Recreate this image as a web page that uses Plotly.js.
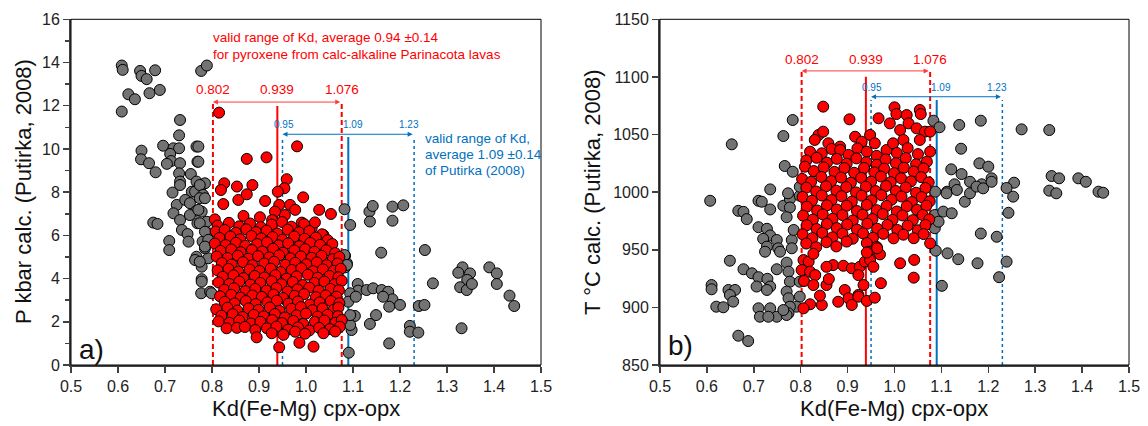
<!DOCTYPE html>
<html>
<head>
<meta charset="utf-8">
<script src="https://cdn.plot.ly/plotly-3.0.1.min.js"></script>
<style>
  html, body { margin: 0; padding: 0; background: #fff; }
  #chart { width: 1148px; height: 426px; }
</style>
</head>
<body>
<div id="chart"></div>
<script>
// Kd(Fe-Mg) cpx-opx vs. calculated pressure (panel a) and temperature (panel b)

// Panel a: pyroxene pairs outside the Parinacota range (grey), [Kd, P kbar]
const grayP = [
  [0.608,13.86],[0.610,13.66],[0.647,13.61],[0.650,13.38],[0.661,13.23],[0.679,13.64],[0.622,12.53],[0.636,12.30],
  [0.667,12.58],[0.689,12.73],[0.608,11.73],[0.777,13.61],[0.789,13.86],[0.732,11.34],[0.730,10.63],[0.650,9.92],
  [0.696,10.15],[0.718,10.03],[0.730,10.03],[0.767,10.11],[0.649,9.52],[0.666,9.34],[0.680,8.92],[0.711,9.77],
  [0.713,9.44],[0.704,9.31],[0.732,9.34],[0.769,9.41],[0.730,8.87],[0.732,8.49],[0.755,8.84],[0.767,8.49],
  [0.785,8.41],[0.774,8.10],[0.757,8.02],[0.716,7.98],[0.732,8.33],[0.725,7.41],[0.743,7.64],[0.753,7.49],
  [0.764,8.02],[0.774,8.33],[0.781,7.87],[0.774,7.72],[0.718,7.02],[0.732,6.71],[0.767,7.14],[0.753,6.94],
  [0.736,6.25],[0.748,6.06],[0.778,7.10],[0.789,6.63],[0.780,5.71],[0.792,6.10],[0.792,4.94],[0.778,4.55],
  [0.675,6.59],[0.684,6.53],[0.709,5.74],[0.709,5.32],[0.750,5.71],[0.769,6.56],[0.767,5.01],[0.764,4.86],
  [0.785,5.40],[0.778,3.97],[0.777,3.32],[0.796,3.39],[0.771,10.11],[0.771,9.41],[0.785,7.72],[0.771,7.18],
  [0.774,6.56],[0.785,6.17],[0.792,5.79],[0.785,5.48],[0.774,4.78],[0.799,3.32],[0.778,3.86],
  [1.082,7.21],[1.094,6.48],[1.135,7.10],[1.142,7.36],[1.136,6.64],[1.184,7.33],[1.207,7.39],[1.184,6.68],
  [1.160,5.20],[1.253,5.32],[1.083,5.05],[1.087,4.71],[1.083,4.52],[1.333,4.52],[1.324,4.27],[1.349,4.24],
  [1.343,3.94],[1.328,3.60],[1.342,3.47],[1.353,3.75],[1.390,4.52],[1.406,4.24],[1.406,3.75],[1.270,3.78],
  [1.433,3.21],[1.443,2.73],[1.331,1.70],[1.110,3.75],[1.111,3.44],[1.129,3.47],[1.143,3.55],[1.161,3.47],
  [1.175,3.39],[1.184,3.04],[1.200,2.78],[1.177,2.70],[1.094,3.32],[1.090,2.93],[1.240,2.73],[1.252,2.78],
  [1.104,2.27],[1.149,2.31],[1.136,1.90],[1.097,1.62],[1.094,1.85],[1.221,1.81],[1.221,1.54],[1.239,1.50],
  [1.177,1.00],[1.091,0.57],[1.094,2.31],[1.082,5.09],[1.087,4.63],[1.106,3.16],[1.164,3.16]
];

// Panel a: Parinacota pyroxene pairs (red), [Kd, P kbar]
const redP = [
  [0.815,11.68],[0.874,9.54],[0.916,9.61],[0.981,10.12],[0.959,8.60],[0.954,8.18],[0.940,8.02],[0.886,8.33],
  [0.826,8.41],[0.819,8.10],[0.853,8.26],[0.856,7.64],[0.874,7.90],[0.824,7.45],[0.913,7.59],[0.994,7.76],
  [1.028,7.18],[1.053,6.99],[0.943,7.41],[0.966,7.41],[0.977,7.18],[0.955,6.94],[0.934,7.10],[0.867,6.90],
  [0.902,6.84],[0.928,6.71],[0.806,6.74],[0.991,6.59],[1.012,6.33],[1.037,6.02],[0.973,5.79],[1.005,5.94],
  [0.812,6.45],[0.836,6.58],[0.858,6.42],[0.881,6.55],[0.904,6.38],[0.927,6.50],[0.949,6.62],[0.969,6.40],[0.996,6.52],[1.019,6.60],
  [0.808,6.18],[0.827,6.25],[0.851,6.12],[0.873,6.28],[0.894,6.15],[0.916,6.22],[0.939,6.08],[0.961,6.26],[0.985,6.14],[1.007,6.20],[1.034,6.05],
  [0.816,5.88],[0.839,5.95],[0.860,5.82],[0.884,5.97],[0.905,5.86],[0.929,5.92],[0.950,5.80],[0.975,5.95],[0.997,5.84],[1.021,5.90],[1.046,5.78],
  [0.806,5.62],[0.829,5.55],[0.851,5.66],[0.871,5.52],[0.896,5.60],[0.917,5.68],[0.942,5.54],[0.962,5.63],[0.986,5.50],[1.009,5.65],[1.030,5.56],[1.056,5.60],
  [0.818,5.28],[0.841,5.35],[0.861,5.22],[0.885,5.32],[0.907,5.25],[0.930,5.38],[0.951,5.20],[0.975,5.30],[0.998,5.36],[1.018,5.24],[1.043,5.31],[1.062,5.18],
  [0.810,5.02],[0.833,4.95],[0.855,5.06],[0.877,4.92],[0.898,5.04],[0.922,4.98],[0.943,5.08],[0.967,4.94],[0.989,5.03],[1.012,4.96],[1.033,5.05],[1.057,4.90],[1.071,5.00],
  [0.821,4.72],[0.842,4.65],[0.866,4.76],[0.886,4.62],[0.911,4.70],[0.932,4.78],[0.956,4.64],[0.977,4.73],[1.001,4.66],[1.023,4.75],[1.044,4.62],[1.067,4.70],
  [0.812,4.38],[0.835,4.45],[0.856,4.32],[0.880,4.42],[0.901,4.35],[0.925,4.46],[0.946,4.30],[0.970,4.40],[0.990,4.48],[1.015,4.34],[1.036,4.43],[1.059,4.36],[1.074,4.45],
  [0.823,4.08],[0.846,4.15],[0.867,4.02],[0.891,4.12],[0.912,4.05],[0.935,4.16],[0.959,4.00],[0.980,4.10],[1.004,4.18],[1.025,4.04],[1.050,4.12],[1.069,4.06],
  [0.814,3.82],[0.837,3.75],[0.858,3.86],[0.882,3.72],[0.903,3.80],[0.927,3.88],[0.948,3.74],[0.972,3.84],[0.993,3.70],[1.018,3.80],[1.039,3.86],[1.061,3.74],[1.076,3.90],
  [0.826,3.48],[0.847,3.55],[0.871,3.42],[0.892,3.52],[0.916,3.45],[0.937,3.56],[0.961,3.40],[0.982,3.50],[1.007,3.58],[1.027,3.44],[1.052,3.52],[1.070,3.46],
  [0.817,3.18],[0.841,3.25],[0.861,3.12],[0.886,3.22],[0.906,3.15],[0.931,3.26],[0.951,3.10],[0.976,3.20],[0.996,3.28],[1.021,3.14],[1.042,3.22],[1.065,3.16],
  [0.827,2.92],[0.848,2.85],[0.872,2.96],[0.893,2.82],[0.918,2.90],[0.938,2.98],[0.963,2.84],[0.983,2.94],[1.008,2.80],[1.029,2.90],[1.053,2.96],[1.071,2.86],
  [0.809,2.58],[0.833,2.65],[0.854,2.52],[0.878,2.62],[0.899,2.55],[0.923,2.66],[0.944,2.50],[0.969,2.60],[0.989,2.68],[1.014,2.54],[1.035,2.62],[1.059,2.56],[1.069,2.66],
  [0.820,2.28],[0.844,2.35],[0.865,2.22],[0.889,2.32],[0.910,2.25],[0.934,2.36],[0.955,2.20],[0.980,2.30],[1.000,2.38],[1.025,2.24],[1.046,2.32],[1.068,2.26],
  [0.814,2.02],[0.837,1.95],[0.858,2.06],[0.883,1.92],[0.903,2.00],[0.928,2.08],[0.949,1.94],[0.973,2.04],[0.994,1.90],[1.019,2.00],[1.039,2.06],[1.063,1.96],[1.076,2.08],
  [0.831,1.70],[0.853,1.72],[0.870,1.76],[0.892,1.62],[0.917,1.70],[0.937,1.78],[0.962,1.64],[0.983,1.74],[1.007,1.60],[1.028,1.72],[1.051,1.66],[1.072,1.77],
  [0.895,1.28],[0.927,1.47],[0.952,1.40],[0.977,1.54],[0.998,1.45],[1.037,1.47],[1.062,1.55],
  [0.943,0.82],[0.986,1.03],[1.016,0.85]
];

// Panel b: grey pairs, [Kd, T °C]
const grayT = [
  [0.653,1041.5],[0.783,1062.6],[0.763,1048.7],[0.766,1022.7],[0.783,1017.7],[0.735,1002.4],[0.607,992.5],[0.667,983.8],
  [0.678,982.9],[0.685,976.6],[0.710,992.5],[0.717,991.7],[0.735,985.0],[0.763,988.2],[0.777,994.0],[0.777,986.7],
  [0.798,996.9],[0.770,978.3],[0.710,969.6],[0.728,968.2],[0.735,962.4],[0.720,959.5],[0.749,958.5],[0.728,952.7],
  [0.724,948.3],[0.752,951.3],[0.756,948.3],[0.781,958.5],[0.781,951.3],[0.785,967.2],[0.649,940.5],[0.678,933.1],
  [0.696,929.6],[0.610,919.4],[0.610,915.7],[0.646,915.1],[0.660,915.1],[0.649,910.8],[0.656,905.0],[0.620,900.6],
  [0.635,900.1],[0.710,926.2],[0.706,918.1],[0.729,924.8],[0.735,918.1],[0.728,915.1],[0.749,933.1],[0.770,938.8],
  [0.774,931.0],[0.777,922.3],[0.770,913.7],[0.774,907.9],[0.798,922.3],[0.798,909.3],[0.791,900.6],[0.777,900.6],
  [0.774,894.9],[0.710,899.2],[0.713,891.9],[0.735,899.2],[0.749,891.9],[0.731,891.9],[0.770,893.4],[0.763,897.7],
  [0.667,875.4],[0.688,870.8],[0.798,1004.7],[0.773,999.0],
  [1.083,1062.0],[1.096,1056.3],[1.138,1058.3],[1.184,1062.0],[1.271,1054.5],[1.330,1053.9],[1.142,1037.7],[1.181,1025.0],
  [1.200,1022.1],[1.207,1012.0],[1.186,1006.8],[1.161,1009.0],[1.143,1015.7],[1.121,1019.8],[1.128,1006.8],[1.112,1000.4],
  [1.087,1000.4],[1.255,1008.2],[1.253,996.1],[1.335,1014.0],[1.351,1012.0],[1.330,1001.3],[1.345,999.0],[1.392,1012.0],
  [1.408,1009.0],[1.435,1000.4],[1.445,999.5],[1.243,982.1],[1.218,961.3],[1.184,964.1],[1.239,939.7],[1.223,926.2],
  [1.177,938.3],[1.136,941.8],[1.113,946.9],[1.088,949.2],[1.101,918.7],[1.086,980.2],[1.104,983.1],[1.122,981.7],
  [1.086,968.7],[1.094,974.4],[1.111,999.0],[1.133,1001.9],[1.150,991.7],[1.161,999.0],[1.175,1004.8],[1.189,1003.3],
  [1.207,1009.0],[1.239,1003.6]
];

// Panel b: Parinacota pairs, [Kd, T °C]
const redT = [
  [0.848,1074.2],[0.904,1063.2],[0.966,1064.1],[1.000,1073.6],[1.004,1067.8],[1.026,1066.9],[1.054,1071.3],[1.056,1067.8],
  [0.990,1059.7],[1.030,1059.7],[1.012,1053.9],[1.047,1055.4],[1.065,1052.5],[1.076,1052.5],[0.838,1049.6],[0.848,1052.5],
  [0.916,1048.1],[0.930,1043.8],[0.948,1049.6],[0.958,1042.4],[0.884,1039.5],[0.859,1042.4],[0.830,1045.3],
  [0.820,1035.1],[0.845,1033.7],[0.866,1037.5],[0.884,1036.6],[0.902,1032.3],[0.921,1038.0],[0.941,1035.1],[0.962,1031.5],
  [0.983,1036.6],[0.997,1042.4],[1.005,1034.0],[1.019,1045.3],[1.028,1038.2],[1.054,1045.3],[1.050,1033.0],[1.076,1035.1],
  [0.812,1027.5],[0.834,1029.8],[0.856,1025.6],[0.877,1028.9],[0.898,1024.7],[0.919,1029.3],[0.940,1026.0],[0.962,1023.8],[0.981,1028.4],[1.003,1025.1],[1.024,1029.6],[1.046,1024.2],[1.069,1026.4],
  [0.809,1022.1],[0.828,1018.3],[0.849,1021.5],[0.872,1017.6],[0.893,1020.9],[0.914,1016.8],[0.935,1021.0],[0.957,1017.2],[0.978,1020.4],[0.999,1016.5],[1.020,1021.2],[1.041,1017.9],[1.062,1020.6],
  [0.803,1011.5],[0.822,1008.9],[0.844,1013.2],[0.865,1009.6],[0.886,1012.7],[0.907,1008.2],[0.929,1012.4],[0.950,1009.1],[0.971,1013.6],[0.992,1008.7],[1.014,1012.1],[1.035,1009.4],[1.057,1013.0],[1.073,1008.5],
  [0.812,1003.9],[0.833,1000.6],[0.854,1005.1],[0.876,1001.3],[0.897,1004.4],[0.918,999.8],[0.939,1004.8],[0.960,1000.9],[0.982,1005.3],[1.003,1001.0],[1.024,1004.1],[1.046,999.5],[1.066,1003.6],
  [0.804,995.8],[0.824,992.6],[0.845,997.1],[0.866,993.2],[0.887,996.5],[0.909,991.8],[0.930,996.9],[0.951,992.9],[0.972,997.4],[0.994,993.5],[1.015,996.2],[1.037,991.4],[1.058,995.7],[1.075,992.0],
  [0.813,987.4],[0.835,984.1],[0.856,988.6],[0.877,984.9],[0.898,988.2],[0.920,983.6],[0.941,988.9],[0.962,984.4],[0.983,988.0],[1.005,983.2],[1.026,987.7],[1.048,984.6],[1.068,988.3],
  [0.805,979.6],[0.826,976.2],[0.847,980.7],[0.868,976.9],[0.889,980.1],[0.911,975.4],[0.932,980.4],[0.953,976.6],[0.975,981.0],[0.996,976.0],[1.017,979.8],[1.039,975.7],[1.060,980.2],[1.074,976.4],
  [0.813,971.3],[0.834,968.0],[0.856,972.4],[0.877,968.8],[0.899,971.9],[0.920,967.5],[0.942,972.6],[0.963,968.3],[0.985,971.6],[1.006,967.2],[1.028,970.9],[1.050,966.9],[1.066,971.5],
  [0.804,963.4],[0.825,960.1],[0.846,964.6],[0.868,960.8],[0.889,964.0],[0.911,959.6],[0.933,964.2],[0.954,960.4],[0.976,963.8],[0.998,959.9],[1.019,963.1],[1.041,960.0],[1.062,963.6],
  [0.812,955.4],[0.833,952.2],[0.855,956.6],[0.876,952.9],[0.898,957.1],[0.941,955.8],[0.962,952.5],[0.945,948.3],[0.969,946.0],
  [0.806,941.1],[0.817,939.7],[0.802,932.4],[0.820,931.0],[0.831,928.0],[0.807,922.9],[0.827,919.4],[0.855,919.4],
  [0.860,924.6],[0.869,936.7],[0.855,935.2],[0.891,936.1],[0.909,933.9],[0.926,935.2],[0.923,928.0],[0.937,939.7],
  [0.894,915.1],[0.923,910.8],[0.934,919.4],[0.971,921.0],[0.820,902.7],[0.845,902.1],[0.841,910.2],[0.880,904.9],
  [0.902,907.9],[0.909,902.1],[0.923,909.3],[0.941,905.6],[0.958,908.4],[1.012,938.3],[1.042,941.2],[1.041,925.8],
  [1.076,955.6],[0.806,899.2],[0.827,946.5],[0.948,941.1],[0.955,935.2],[0.963,951.3],[0.941,947.6]
];

// Kd reference values
const kdParinacota = { low: 0.802, mean: 0.939, high: 1.076 };
const kdPutirka = { low: 0.95, mean: 1.09, high: 1.23 };
const xTickVals = [0.5, 0.6, 0.7, 0.8, 0.9, 1.0, 1.1, 1.2, 1.3, 1.4, 1.5];

const W = 1148, H = 426;
const px = v => v / W;
const py = v => 1 - v / H;

const RED = '#FF0000';
const BLUE = '#0070C0';
const AXIS = '#404040';
const FONT = 'Liberation Sans, Arial, sans-serif';

function scatter(pts, color, xa, ya) {
  return {
    type: 'scatter', mode: 'markers',
    x: pts.map(p => p[0]), y: pts.map(p => p[1]),
    xaxis: xa, yaxis: ya,
    marker: { size: 11, color: color, line: { color: '#000', width: 1 } },
    hoverinfo: 'x+y', showlegend: false
  };
}

const traces = [
  scatter(grayP, '#737373', 'x', 'y'),
  scatter(redP, RED, 'x', 'y'),
  scatter(grayT, '#737373', 'x2', 'y2'),
  scatter(redT, RED, 'x2', 'y2')
];

const tickFont = { family: FONT, size: 16, color: '#222' };
const xAxisBase = {
  range: [0.5, 1.5], tickvals: xTickVals, tickformat: '.1f',
  ticks: 'outside', ticklen: 6, tickwidth: 1.5, tickcolor: AXIS,
  showline: true, linewidth: 2, linecolor: AXIS,
  showgrid: false, zeroline: false, tickfont: tickFont, fixedrange: true
};
const yAxisBase = {
  ticks: 'outside', ticklen: 6, tickwidth: 1.5, tickcolor: AXIS,
  showline: true, linewidth: 2, linecolor: AXIS,
  showgrid: false, zeroline: false, tickfont: tickFont, fixedrange: true
};

const domL = [px(71), px(541)];
const domR = [px(660), px(1129)];
const domY = [1 - 365 / H, 1 - 19.3 / H];

// Reference lines and frame for one panel
function refShapes(xa, ya, yRedDash, yRedSolid, yBlue, yBottom) {
  const v = (x, y1, color, width, dash) => ({
    type: 'line', xref: xa, yref: ya, x0: x, x1: x, y0: yBottom, y1: y1,
    line: { color: color, width: width, dash: dash }, layer: 'below'
  });
  return [
    v(kdParinacota.low, yRedDash, RED, 2, '5px,3px'),
    v(kdParinacota.high, yRedDash, RED, 2, '5px,3px'),
    v(kdParinacota.mean, yRedSolid, RED, 2, 'solid'),
    v(kdPutirka.low, yBlue, BLUE, 1.5, 'dot'),
    v(kdPutirka.high, yBlue, BLUE, 1.5, 'dot'),
    v(kdPutirka.mean, yBlue, BLUE, 2, 'solid'),
    { type: 'rect', xref: xa + ' domain', yref: ya + ' domain', x0: 0, x1: 1, y0: 0, y1: 1,
      line: { color: '#000', width: 1 }, layer: 'above' }
  ];
}

const shapes = [].concat(
  refShapes('x', 'y', 12.17, 11.99, 10.55, 0),
  refShapes('x2', 'y2', 1105.2, 1100.2, 1080.0, 850)
);

function arrow(xa, ya, x0, x1, y, color) {
  return {
    xref: xa, yref: ya, axref: xa, ayref: ya,
    x: x0, y: y, ax: x1, ay: y, text: '', showarrow: true,
    arrowhead: 2, arrowsize: 1, arrowwidth: 1, arrowcolor: color,
    arrowside: 'end+start', standoff: 0, startstandoff: 0
  };
}

function label(xa, ya, x, y, text, color, size) {
  return {
    xref: xa, yref: ya, x: x, y: y, text: text, showarrow: false,
    xanchor: 'center', yanchor: 'middle',
    font: { family: FONT, size: size, color: color }
  };
}

function paperText(x, y, text, size, color, angle, anchor) {
  return {
    xref: 'paper', yref: 'paper', x: px(x), y: py(y), text: text, showarrow: false,
    xanchor: anchor || 'center', yanchor: 'middle', textangle: angle || 0,
    font: { family: FONT, size: size, color: color }
  };
}

const fmt = v => String(v);
const INK = '#111';

const annotations = [
  // panel a
  arrow('x', 'y', kdParinacota.low, kdParinacota.high, 12.17, '#FF3B3B'),
  arrow('x', 'y', kdPutirka.low, kdPutirka.high, 10.68, BLUE),
  label('x', 'y', kdParinacota.low, 12.73, fmt(kdParinacota.low), RED, 13.5),
  label('x', 'y', kdParinacota.mean, 12.73, fmt(kdParinacota.mean), RED, 13.5),
  label('x', 'y', kdParinacota.high, 12.73, fmt(kdParinacota.high), RED, 13.5),
  label('x', 'y', kdPutirka.low + 0.003, 11.13, '0.95', BLUE, 10),
  label('x', 'y', kdPutirka.mean + 0.01, 11.13, '1.09', BLUE, 10),
  label('x', 'y', kdPutirka.high - 0.011, 11.13, '1.23', BLUE, 10),
  paperText(211, 38, 'valid range of Kd, average 0.94 ±0.14', 13.5, RED, 0, 'left'),
  paperText(211, 54, 'for pyroxene from calc-alkaline Parinacota lavas', 13.5, RED, 0, 'left'),
  paperText(423, 139, 'valid range of Kd,', 13.5, BLUE, 0, 'left'),
  paperText(423, 154.5, 'average 1.09 ±0.14', 13.5, BLUE, 0, 'left'),
  paperText(423, 170, 'of Putirka (2008)', 13.5, BLUE, 0, 'left'),
  paperText(77, 349, 'a)', 28, INK, 0, 'left'),
  paperText(23, 192, 'P kbar calc. (Putirka, 2008)', 22, INK, -90),
  paperText(306, 408, 'Kd(Fe-Mg) cpx-opx', 22, INK, 0),
  // panel b
  arrow('x2', 'y2', kdParinacota.low, kdParinacota.high, 1105.2, '#FF3B3B'),
  arrow('x2', 'y2', kdPutirka.low, kdPutirka.high, 1082.8, BLUE),
  label('x2', 'y2', kdParinacota.low, 1114.7, fmt(kdParinacota.low), RED, 13.5),
  label('x2', 'y2', kdParinacota.mean, 1114.7, fmt(kdParinacota.mean), RED, 13.5),
  label('x2', 'y2', kdParinacota.high, 1114.7, fmt(kdParinacota.high), RED, 13.5),
  label('x2', 'y2', kdPutirka.low + 0.003, 1090.6, '0.95', BLUE, 10),
  label('x2', 'y2', kdPutirka.mean + 0.01, 1090.6, '1.09', BLUE, 10),
  label('x2', 'y2', kdPutirka.high - 0.011, 1090.6, '1.23', BLUE, 10),
  paperText(666, 345, 'b)', 28, INK, 0, 'left'),
  paperText(592, 192, 'T °C calc. (Putirka, 2008)', 22, INK, -90),
  paperText(894, 408, 'Kd(Fe-Mg) cpx-opx', 22, INK, 0)
];

const layout = {
  width: W, height: H,
  margin: { l: 0, r: 0, t: 0, b: 0 },
  paper_bgcolor: '#fff', plot_bgcolor: '#fff',
  showlegend: false,
  xaxis: Object.assign({}, xAxisBase, { domain: domL, anchor: 'y' }),
  yaxis: Object.assign({}, yAxisBase, { domain: domY, anchor: 'x', range: [0, 16], dtick: 2, tick0: 0,
    minor: { dtick: 1, ticks: 'outside', ticklen: 4, tickwidth: 1.5, tickcolor: AXIS } }),
  xaxis2: Object.assign({}, xAxisBase, { domain: domR, anchor: 'y2' }),
  yaxis2: Object.assign({}, yAxisBase, { domain: domY, anchor: 'x2', range: [850, 1150], dtick: 50, tick0: 850 }),
  shapes: shapes,
  annotations: annotations
};

Plotly.newPlot('chart', traces, layout, { displayModeBar: false, staticPlot: true });
</script>
</body>
</html>
